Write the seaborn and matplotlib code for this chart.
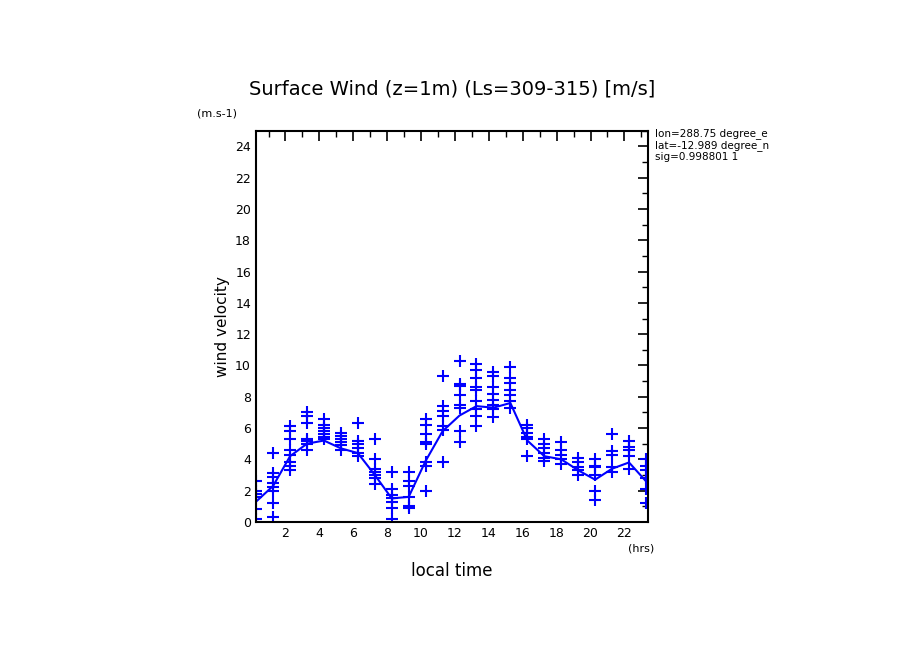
import matplotlib
matplotlib.use("Agg")
import matplotlib.pyplot as plt
import seaborn as sns
import pandas as pd
import numpy as np
from matplotlib.ticker import MultipleLocator

hours = [h + 0.27 for h in range(24)]
mean_wind = [1.3, 2.3, 4.2, 5.0, 5.2, 4.7, 4.4, 3.0, 1.5, 1.6, 3.9, 5.8,
             6.8, 7.4, 7.3, 7.6, 5.2, 4.2, 4.0, 3.3, 2.7, 3.4, 3.8, 2.6]
samples = [
    [2.6, 2.0, 1.8, 1.6, 0.8, 0.2],
    [4.4, 3.1, 2.9, 2.5, 2.2, 2.0, 1.2, 0.3],
    [6.1, 5.8, 5.3, 4.6, 4.3, 3.8, 3.6, 3.3],
    [7.0, 6.8, 6.3, 5.3, 5.2, 5.0, 4.6],
    [6.6, 6.2, 6.0, 5.8, 5.6, 5.4, 5.3],
    [5.7, 5.5, 5.3, 5.1, 4.9, 4.6],
    [6.3, 5.2, 5.0, 4.7, 4.4, 4.2],
    [5.3, 4.0, 3.4, 3.2, 3.0, 2.8, 2.4],
    [3.2, 2.1, 1.7, 1.5, 1.3, 0.9, 0.2],
    [3.2, 2.6, 2.3, 1.6, 1.0, 0.9],
    [6.6, 6.2, 5.6, 5.1, 5.0, 3.8, 3.6, 2.0],
    [9.3, 7.4, 7.1, 6.8, 6.1, 5.9, 3.8],
    [10.3, 8.8, 8.7, 8.1, 7.5, 7.3, 5.8, 5.1],
    [10.1, 9.7, 9.2, 8.6, 8.4, 7.7, 7.2, 6.8, 6.1],
    [9.6, 9.3, 8.6, 8.2, 7.8, 7.5, 7.2, 6.7],
    [9.9, 9.2, 8.9, 8.4, 8.1, 7.7, 7.3],
    [6.2, 6.0, 5.7, 5.4, 5.3, 4.2],
    [5.3, 5.0, 4.7, 4.4, 4.1, 3.9],
    [5.1, 4.6, 4.3, 4.0, 3.7],
    [4.1, 3.8, 3.5, 3.3, 3.0],
    [4.0, 3.6, 3.5, 3.0, 2.0, 1.4],
    [5.6, 4.5, 4.3, 3.5, 3.2],
    [5.2, 4.8, 4.6, 4.2, 3.4],
    [4.0, 3.6, 3.3, 2.8, 2.1, 1.2],
]

sns.set_style("white")
plt.rcParams['font.family'] = ['DejaVu Sans']
plt.rcParams['text.color'] = 'black'
plt.rcParams['axes.labelcolor'] = 'black'
plt.rcParams['xtick.color'] = 'black'
plt.rcParams['ytick.color'] = 'black'

pts = pd.DataFrame([(hours[i], v) for i, s in enumerate(samples) for v in s],
                   columns=["hour", "wind"])
mdf = pd.DataFrame({"hour": hours, "wind": mean_wind})

fig = plt.figure(figsize=(9.04, 6.54), dpi=100)
ax = fig.add_axes([0.283, 0.202, 0.434, 0.598])
sns.scatterplot(data=pts, x="hour", y="wind", marker="+", s=70, color="#0000ff",
                linewidth=1.5, ax=ax, legend=False)
sns.lineplot(data=mdf, x="hour", y="wind", color="#0000ff", linewidth=1.5, ax=ax)

ax.set_xlim(0.25, 23.4)
ax.set_ylim(0, 25)
ax.xaxis.set_minor_locator(MultipleLocator(1))
ax.yaxis.set_major_locator(MultipleLocator(2))
ax.yaxis.set_minor_locator(MultipleLocator(1))
ax.set_xticks(range(2, 24, 2))
ax.tick_params(which="both", direction="in", top=True, right=True, labelsize=9)
ax.tick_params(which="major", length=7, width=1.2)
ax.tick_params(which="minor", length=4, width=1.0)
for sp in ax.spines.values():
    sp.set_color("black"); sp.set_linewidth(1.5)
ax.set_xlabel("local time", fontsize=12, labelpad=16)
ax.set_ylabel("wind velocity", fontsize=11)
ax.set_title("Surface Wind (z=1m) (Ls=309-315) [m/s]", fontsize=14, pad=26)
fig.text(0.218, 0.822, "(m.s-1)", fontsize=8)
fig.text(0.695, 0.157, "(hrs)", fontsize=8)
fig.text(0.725, 0.753, "lon=288.75 degree_e\nlat=-12.989 degree_n\nsig=0.998801 1",
         fontsize=7.5, va="bottom", linespacing=1.1, clip_on=False)
fig.savefig("out.png", dpi=100)
